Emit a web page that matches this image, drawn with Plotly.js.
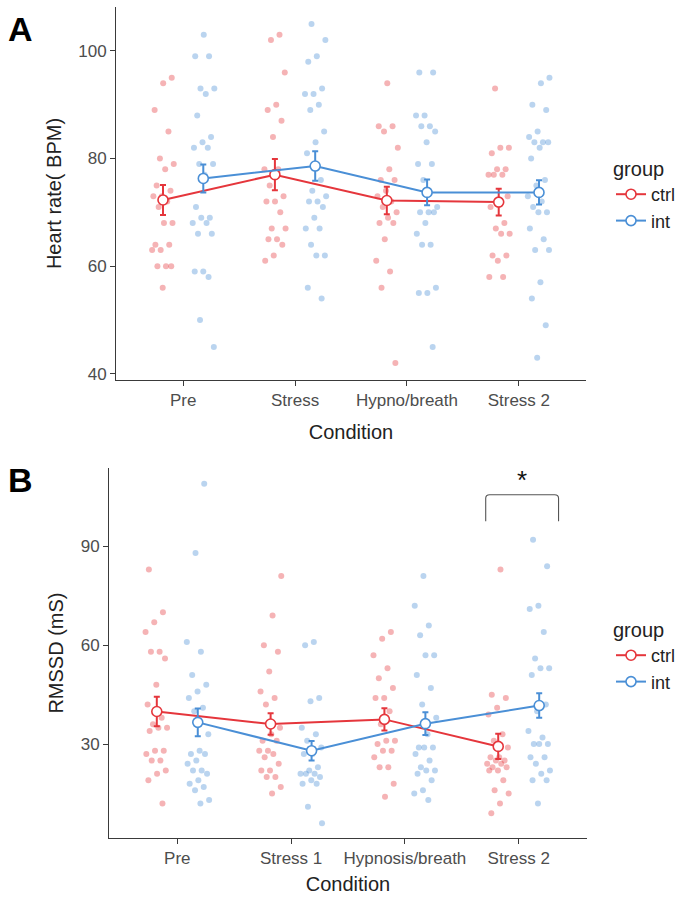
<!DOCTYPE html>
<html>
<head>
<meta charset="utf-8">
<script src="https://cdn.plot.ly/plotly-3.0.1.min.js"></script>
<style>
  html, body { margin: 0; padding: 0; background: #fff; }
  #chart { width: 685px; height: 900px; }
</style>
</head>
<body>
<div id="chart"></div>
<script>
// ---- categories ----
const hrConditions = ['Pre', 'Stress', 'Hypno/breath', 'Stress 2'];
const rmssdConditions = ['Pre', 'Stress 1', 'Hypnosis/breath', 'Stress 2'];
const groupNames = ['ctrl', 'int'];

// ---- Heart rate (BPM): individual participants ----
const hrCtrlPre     = [95, 94, 89, 85, 80, 79, 78, 75, 74, 73, 73, 72, 71, 68, 68, 64, 64, 63, 63, 60, 60, 60, 56];
const hrCtrlStress  = [103, 102, 96, 90, 89, 87, 84, 78, 78, 75, 73, 72, 72, 70, 67, 67, 65, 65, 64, 62, 61];
const hrCtrlHypno   = [94, 86, 86, 85, 82, 78, 76, 76, 74, 73, 72, 71, 70, 69, 68, 68, 65, 61, 59, 56, 42];
const hrCtrlStress2 = [93, 82, 82, 81, 78, 78, 77, 77, 77, 73, 72, 71, 68, 67, 66, 66, 62, 62, 61, 58, 58];

const hrIntPre     = [103, 99, 99, 93, 93, 92, 88, 84, 83, 82, 82, 79, 79, 77, 71, 69, 69, 68, 68, 66, 66, 59, 59, 58, 50, 45];
const hrIntStress  = [105, 102, 99, 98, 93, 92, 92, 90, 89, 85, 83, 81, 76, 74, 73, 72, 72, 71, 69, 67, 67, 64, 62, 62, 56, 54];
const hrIntHypno   = [96, 96, 88, 88, 86, 86, 85, 83, 79, 79, 76, 71, 70, 70, 70, 68, 66, 64, 64, 56, 55, 55, 45];
const hrIntStress2 = [95, 94, 90, 89, 85, 84, 83, 83, 83, 82, 80, 76, 75, 73, 72, 71, 70, 70, 67, 65, 63, 63, 57, 54, 49, 43];

// ---- Heart rate: group means and standard errors ----
const hrCtrlMean = [72.3, 77.0, 72.2, 71.9];
const hrCtrlSE   = [2.8, 2.9, 2.55, 2.5];
const hrIntMean  = [76.3, 78.6, 73.7, 73.7];
const hrIntSE    = [2.6, 2.75, 2.4, 2.25];

// ---- RMSSD (mS): individual participants ----
const rmssdCtrlPre     = [83, 70, 67, 64, 58, 58, 56, 48, 42, 38, 36, 35, 35, 34, 28, 28, 27, 25, 25, 22, 21, 19, 12];
const rmssdCtrlStress1 = [81, 69, 60, 58, 52, 46, 44, 42, 35, 33, 31, 31, 28, 28, 27, 26, 24, 22, 22, 20, 20, 17, 15];
const rmssdCtrlHypno   = [64, 62, 57, 53, 50, 47, 44, 44, 40, 36, 31, 31, 30, 28, 28, 26, 23, 23, 18, 14];
const rmssdCtrlStress2 = [83, 45, 44, 41, 39, 33, 31, 29, 26, 26, 25, 25, 24, 24, 23, 23, 22, 22, 19, 16, 15, 12, 9];

const rmssdIntPre     = [109, 88, 61, 58, 51, 48, 46, 44, 41, 40, 33, 28, 27, 27, 25, 24, 22, 22, 21, 19, 18, 17, 16, 13, 12];
const rmssdIntStress1 = [61, 60, 44, 43, 35, 33, 31, 29, 27, 27, 23, 22, 21, 21, 21, 20, 19, 18, 18, 11, 6];
const rmssdIntHypno   = [81, 72, 66, 63, 57, 57, 51, 47, 42, 38, 33, 29, 29, 29, 27, 25, 23, 22, 22, 21, 19, 16, 15, 13];
const rmssdIntStress2 = [92, 84, 72, 71, 64, 56, 53, 53, 51, 42, 40, 34, 32, 30, 30, 30, 26, 26, 24, 22, 21, 19, 19, 12];

// ---- RMSSD: group means and standard errors ----
const rmssdCtrlMean = [39.9, 36.1, 37.5, 29.3];
const rmssdCtrlSE   = [4.5, 3.3, 3.4, 3.85];
const rmssdIntMean  = [36.6, 28.0, 36.2, 41.7];
const rmssdIntSE    = [4.2, 2.95, 3.45, 3.7];

// significance marker (Stress 2, ctrl vs int)
const sigCondition = 'Stress 2';
const sigLabel = '*';

// ---- styling ----
const FONT = 'Liberation Sans, Arial, Helvetica, sans-serif';
const COLORS = { ctrl: '#E5363C', int: '#4A8FD6' };
const DODGE = { ctrl: -0.18, int: 0.18 };
const JITTER_WIDTH = 0.2;

// deterministic spread of points around each dodged position
function jitterOffset(i, seed) {
  const f = ((i + 1) * 0.6180339887 + seed * 0.2718281828) % 1;
  return (f - 0.5) * JITTER_WIDTH;
}

function pointTrace(sets, group, xa, ya, seed) {
  const x = [], y = [];
  sets.forEach((vals, c) => {
    vals.forEach((v, i) => {
      x.push(c + 1 + DODGE[group] + jitterOffset(i, seed + c * 3));
      y.push(v);
    });
  });
  return {
    type: 'scatter', mode: 'markers', x, y, xaxis: xa, yaxis: ya,
    hoverinfo: 'skip', showlegend: false,
    marker: { size: 6, color: COLORS[group], opacity: 0.38, line: { width: 0 } }
  };
}

function meanTrace(group, means, se, xa, ya, legendId) {
  return {
    type: 'scatter', mode: 'lines+markers', name: group,
    x: means.map((_, c) => c + 1 + DODGE[group]), y: means,
    xaxis: xa, yaxis: ya, legend: legendId,
    line: { color: COLORS[group], width: 2 },
    marker: { size: 10, color: '#ffffff', line: { color: COLORS[group], width: 1.6 } },
    error_y: { type: 'data', array: se, color: COLORS[group], thickness: 2, width: 3 }
  };
}

const traces = [
  pointTrace([hrCtrlPre, hrCtrlStress, hrCtrlHypno, hrCtrlStress2], 'ctrl', 'x', 'y', 1),
  pointTrace([hrIntPre, hrIntStress, hrIntHypno, hrIntStress2], 'int', 'x', 'y', 7),
  meanTrace('ctrl', hrCtrlMean, hrCtrlSE, 'x', 'y', 'legend'),
  meanTrace('int', hrIntMean, hrIntSE, 'x', 'y', 'legend'),
  pointTrace([rmssdCtrlPre, rmssdCtrlStress1, rmssdCtrlHypno, rmssdCtrlStress2], 'ctrl', 'x2', 'y2', 13),
  pointTrace([rmssdIntPre, rmssdIntStress1, rmssdIntHypno, rmssdIntStress2], 'int', 'x2', 'y2', 19),
  meanTrace('ctrl', rmssdCtrlMean, rmssdCtrlSE, 'x2', 'y2', 'legend2'),
  meanTrace('int', rmssdIntMean, rmssdIntSE, 'x2', 'y2', 'legend2')
];

const W = 685, H = 900;
const axisLine = { showline: true, linecolor: '#3a3a3a', linewidth: 1, ticks: 'outside', ticklen: 5,
  tickcolor: '#3a3a3a', tickwidth: 1, showgrid: false, zeroline: false, fixedrange: true,
  tickfont: { family: FONT, size: 17, color: '#4D4D4D' } };
const titleFont = { family: FONT, size: 20, color: '#222' };

function xAxis(domainPx, labels, anchor, standoff) {
  return Object.assign({}, axisLine, {
    domain: [domainPx[0] / W, domainPx[1] / W], range: [0.4, 4.6], anchor,
    tickvals: labels.map((_, i) => i + 1), ticktext: labels,
    title: { text: 'Condition', font: titleFont, standoff }
  });
}
function yAxis(domainPx, range, ticks, title, anchor) {
  return Object.assign({}, axisLine, {
    domain: [1 - domainPx[1] / H, 1 - domainPx[0] / H], range, anchor, tickvals: ticks,
    title: { text: title, font: titleFont, standoff: 11 }
  });
}

// bracket over the significant pair
const sigX = rmssdConditions.indexOf(sigCondition) + 1;
const bx0 = sigX - 0.29, bx1 = sigX + 0.35, byTop = 105.7, byEnd = 97.6;
const bracketPath = `M${bx0},${byEnd} L${bx0},${byTop - 1.1} Q${bx0},${byTop} ${bx0 + 0.035},${byTop} ` +
  `L${bx1 - 0.035},${byTop} Q${bx1},${byTop} ${bx1},${byTop - 1.1} L${bx1},${byEnd}`;

const legendBase = {
  xanchor: 'left', yanchor: 'top', bgcolor: 'rgba(0,0,0,0)',
  font: { family: FONT, size: 18, color: '#222' },
  title: { text: 'group', font: { family: FONT, size: 20, color: '#222' } },
  itemwidth: 30, tracegroupgap: 0
};

const layout = {
  width: W, height: H, autosize: false,
  margin: { l: 0, r: 0, t: 0, b: 0 },
  paper_bgcolor: '#fff', plot_bgcolor: '#fff',
  font: { family: FONT },
  xaxis: xAxis([116, 586], hrConditions, 'y', 15),
  yaxis: yAxis([7, 380], [38.85, 108.15], [40, 60, 80, 100], 'Heart rate( BPM)', 'x'),
  xaxis2: xAxis([109, 587], rmssdConditions, 'y2', 9),
  yaxis2: yAxis([468, 838], [1.5, 113.8], [30, 60, 90], 'RMSSD (mS)', 'x2'),
  legend: Object.assign({}, legendBase, { x: 611 / W, y: 1 - 150 / H }),
  legend2: Object.assign({}, legendBase, { x: 611 / W, y: 1 - 611 / H }),
  shapes: [{ type: 'path', xref: 'x2', yref: 'y2', path: bracketPath, line: { color: '#555', width: 1.1 } }],
  annotations: [
    { text: '<b>A</b>', xref: 'paper', yref: 'paper', x: 6 / W, y: 1 - 8 / H, xanchor: 'left', yanchor: 'top',
      showarrow: false, font: { family: FONT, size: 34, color: '#000' } },
    { text: '<b>B</b>', xref: 'paper', yref: 'paper', x: 6 / W, y: 1 - 459 / H, xanchor: 'left', yanchor: 'top',
      showarrow: false, font: { family: FONT, size: 34, color: '#000' } },
    { text: sigLabel, xref: 'x2', yref: 'y2', x: sigX + 0.03, y: 110.3, xanchor: 'center', yanchor: 'middle',
      showarrow: false, font: { family: FONT, size: 26, color: '#111' } }
  ]
};

Plotly.newPlot('chart', traces, layout, { staticPlot: true, displayModeBar: false });
</script>
</body>
</html>
